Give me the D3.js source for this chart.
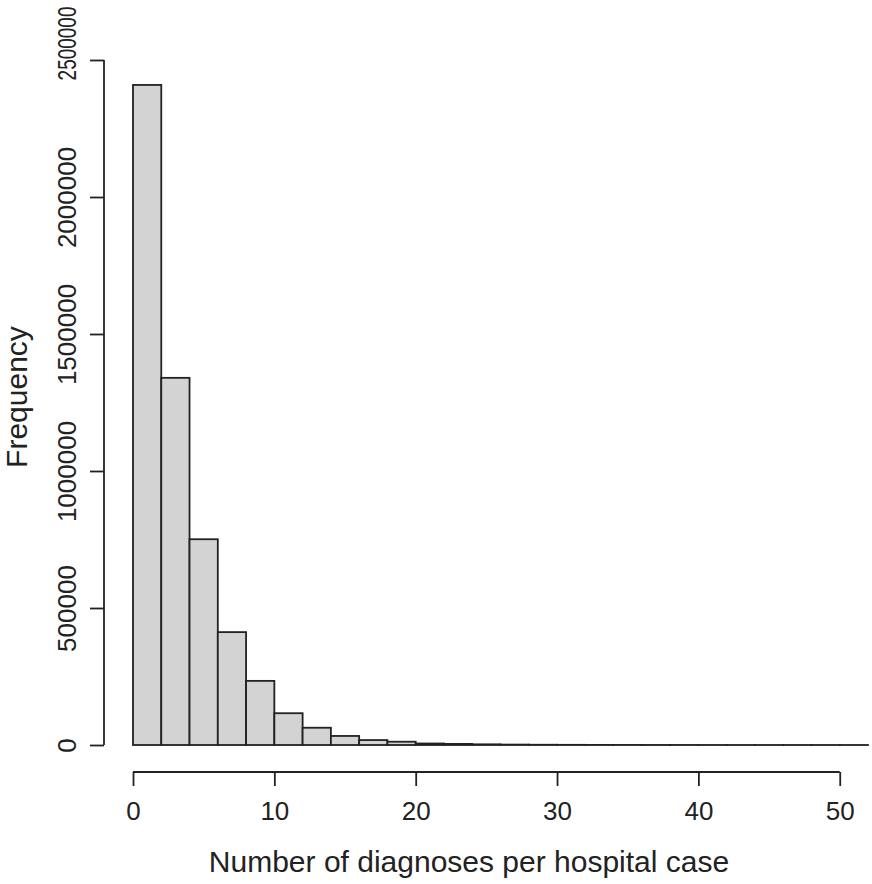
<!DOCTYPE html>
<html>
<head>
<meta charset="utf-8">
<script src="https://cdn.jsdelivr.net/npm/d3@7"></script>
<style>
  html, body { margin: 0; padding: 0; background: #fff; }
  svg text { font-family: "Liberation Sans", Arial, sans-serif; fill: #222; }
</style>
</head>
<body>
<div id="chart"></div>
<script>
// Histogram bins (width 2) and their counts
var binStarts = [0, 2, 4, 6, 8, 10, 12, 14, 16, 18, 20, 22, 24, 26,
                 28, 30, 32, 34, 36, 38, 40, 42, 44, 46, 48, 50];
var counts = [2409000, 1340000, 751000, 412000, 234000, 116000, 63000, 33000, 18000, 12000,
              5500, 4000, 2500, 1500, 900, 600, 400, 250, 180, 120, 80, 60, 40, 30, 20, 15];
var binWidth = 2;

var xTicks = [0, 10, 20, 30, 40, 50];
var yTicks = [0, 500000, 1000000, 1500000, 2000000, 2500000];

var xLabel = 'Number of diagnoses per hospital case';
var yLabel = 'Frequency';

var width = 872, height = 884;

var svg = d3.select('#chart')
    .append('svg')
    .attr('width', width)
    .attr('height', height);

// Scales - plot region as in the R histogram
var x = d3.scaleLinear().domain([0, 52]).range([133, 868]);
var y = d3.scaleLinear().domain([0, 2500000]).range([745, 60]);

var ink = '#222';
var lineWidth = 1.8;

// Bars
svg.append('g')
    .selectAll('rect')
    .data(binStarts)
    .enter().append('rect')
    .attr('x', function(d) { return x(d); })
    .attr('width', function(d) { return x(d + binWidth) - x(d); })
    .attr('y', function(d, i) { return y(counts[i]); })
    .attr('height', function(d, i) { return y(0) - y(counts[i]); })
    .attr('fill', '#d3d3d3')
    .attr('stroke', ink)
    .attr('stroke-width', lineWidth);

// X axis, detached below the bars like base R
var xAxis = d3.axisBottom(x)
    .tickValues(xTicks)
    .tickSize(14)
    .tickPadding(16)
    .tickSizeOuter(0);

var gx = svg.append('g')
    .attr('transform', 'translate(0,772)')
    .call(xAxis);
gx.select('.domain')
    .attr('d', 'M' + x(0) + ',0H' + x(50))
    .attr('stroke', ink).attr('stroke-width', lineWidth);
gx.selectAll('.tick line').attr('stroke', ink).attr('stroke-width', lineWidth);
gx.selectAll('.tick text')
    .attr('font-size', 26)
    .attr('font-family', '"Liberation Sans", Arial, sans-serif')
    .attr('fill', ink);

// Y axis
var yAxis = d3.axisLeft(y)
    .tickValues(yTicks)
    .tickSize(14)
    .tickFormat(d3.format('d'))
    .tickSizeOuter(0);

var gy = svg.append('g')
    .attr('transform', 'translate(104,0)')
    .call(yAxis);
gy.select('.domain')
    .attr('d', 'M0,' + y(0) + 'V' + y(2500000))
    .attr('stroke', ink).attr('stroke-width', lineWidth);
gy.selectAll('.tick line').attr('stroke', ink).attr('stroke-width', lineWidth);
// Labels run parallel to the axis; the top one is squeezed in against the edge
gy.selectAll('.tick text')
    .attr('font-size', 26)
    .attr('font-family', '"Liberation Sans", Arial, sans-serif')
    .attr('fill', ink)
    .attr('text-anchor', 'middle')
    .attr('dy', null)
    .attr('x', null)
    .attr('transform', function(d) {
        if (d === 2500000) return 'translate(-28,-17) rotate(-90) scale(0.73,1)';
        return 'translate(-28,0) rotate(-90)';
    });

// Axis titles
svg.append('text')
    .attr('x', 469)
    .attr('y', 872)
    .attr('text-anchor', 'middle')
    .attr('font-size', 30)
    .text(xLabel);

svg.append('text')
    .attr('transform', 'translate(27,397) rotate(-90)')
    .attr('text-anchor', 'middle')
    .attr('font-size', 30)
    .text(yLabel);
</script>
</body>
</html>
